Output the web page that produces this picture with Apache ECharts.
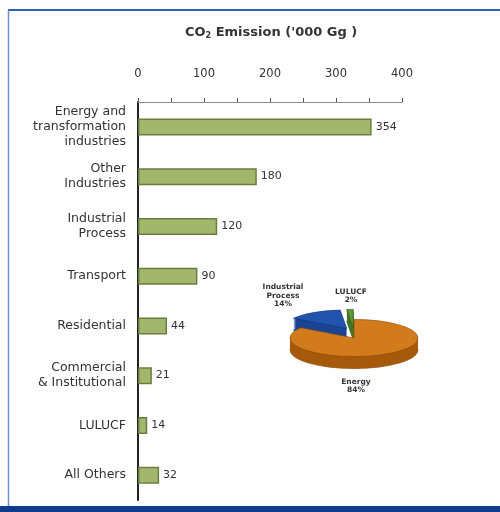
<!DOCTYPE html>
<html>
<head>
<meta charset="utf-8">
<style>
  html, body { margin: 0; padding: 0; background: #ffffff; }
  #chart { width: 500px; height: 512px; }
</style>
<script src="https://cdn.jsdelivr.net/npm/echarts@6/dist/echarts.min.js"></script>
</head>
<body>
<div id="chart"></div>
<script>
// CO2 emissions by sector ('000 Gg)
const categories = [
  'Energy and\ntransformation\nindustries',
  'Other\nIndustries',
  'Industrial\nProcess',
  'Transport',
  'Residential',
  'Commercial\n& Institutional',
  'LULUCF',
  'All Others'
];
const values = [354, 180, 120, 90, 44, 21, 14, 32];

// Value axis range
const xMin = 0;
const xMax = 400;
const xInterval = 100;

// Pie inset: Industrial Process and LULUCF taken from the bars, the rest is energy use
const pieNames = ['Energy', 'Industrial Process', 'LULUCF'];
const total = values.reduce((a, b) => a + b, 0);
const pieValues = [total - values[2] - values[6], values[2], values[6]];

const chart = echarts.init(document.getElementById('chart'));

// pie geometry (flattened 3D look)
const PIE = { cx: 354, cy: 338, r: 64, flat: 0.29, depth: 12, explode: 14, lift: 6 };
const pieColors = {
  'Energy': { top: '#d27b1c', side: '#a65a0c', edge: '#8a4a08' },
  'Industrial Process': { top: '#2254ae', side: '#1a4594', edge: '#12357a' },
  'LULUCF': { top: '#5f9a36', side: '#46782a', edge: '#2f5518' }
};
const pieLabelPos = {
  'Energy': [2, 48],
  'Industrial Process': [-71, -42],
  'LULUCF': [-3, -42]
};
// top faces: back slices first, the front (energy) slice last
const topOrder = { 'Industrial Process': 100, 'LULUCF': 110, 'Energy': 120 };

// angles: slices other than Energy run counter-clockwise from 12 o'clock
const pieSum = pieValues.reduce((a, b) => a + b, 0);
const angles = {};
(function () {
  const top = -Math.PI / 2;
  const aL = pieValues[2] / pieSum * Math.PI * 2;
  const aI = pieValues[1] / pieSum * Math.PI * 2;
  angles['LULUCF'] = [top - aL, top];
  angles['Industrial Process'] = [top - aL - aI, top - aL];
  angles['Energy'] = [top, top + Math.PI * 2 - aL - aI];
})();

function renderPie(params, api) {
  const idx = params.dataIndex;
  const name = pieNames[idx];
  const val = api.value(0);
  const [s, e] = angles[name];
  const c = pieColors[name];
  const mid = (s + e) / 2;
  const isMain = name === 'Energy';
  const ex = isMain ? 0 : PIE.explode;
  const ox = Math.cos(mid) * ex;
  const oy = Math.sin(mid) * ex * PIE.flat - (isMain ? 0 : PIE.lift);
  const children = [];
  for (let d = PIE.depth; d >= 1; d--) {
    children.push({
      type: 'sector',
      x: PIE.cx + ox, y: PIE.cy + oy + d,
      scaleY: PIE.flat,
      shape: { cx: 0, cy: 0, r: PIE.r, r0: 0, startAngle: s, endAngle: e, clockwise: true },
      style: { fill: c.side, stroke: d === PIE.depth ? c.edge : null, lineWidth: 1, strokeNoScale: true },
      z2: 10 + (PIE.depth - d)
    });
  }
  children.push({
    type: 'sector',
    x: PIE.cx + ox, y: PIE.cy + oy,
    scaleY: PIE.flat,
    shape: { cx: 0, cy: 0, r: PIE.r, r0: 0, startAngle: s, endAngle: e, clockwise: true },
    style: { fill: c.top, stroke: c.edge, lineWidth: 1, strokeNoScale: true },
    z2: topOrder[name]
  });
  const pct = Math.round(val / pieSum * 100) + '%';
  const lp = pieLabelPos[name];
  children.push({
    type: 'text',
    x: PIE.cx + lp[0], y: PIE.cy + lp[1],
    style: {
      text: name.replace(' ', '\n') + '\n' + pct,
      align: 'center', verticalAlign: 'middle',
      fontSize: 7.5, lineHeight: 8.5, fontWeight: 'bold',
      fontFamily: 'DejaVu Sans', fill: '#333'
    },
    z2: 500
  });
  return { type: 'group', children: children };
}

const option = {
  backgroundColor: '#ffffff',
  animation: false,
  title: {
    text: '{a|CO}{s|2}{a| Emission (\'000 Gg )}',
    left: 180, top: 20,
    textStyle: {
      rich: {
        a: { fontSize: 13, fontWeight: 'bold', fontFamily: 'DejaVu Sans', color: '#333' },
        s: { fontSize: 8, fontWeight: 'bold', fontFamily: 'DejaVu Sans', color: '#333', verticalAlign: 'bottom', padding: [7, 0, 0, 0] }
      }
    }
  },
  grid: { left: 138, right: 98, top: 102, bottom: 12, containLabel: false },
  xAxis: {
    type: 'value',
    position: 'top',
    min: xMin, max: xMax, interval: xInterval,
    axisLine: { show: true, lineStyle: { color: '#8a8a8a', width: 1 } },
    axisTick: { show: true, length: 4, lineStyle: { color: '#555' } },
    minorTick: { show: true, splitNumber: 2, length: 4, lineStyle: { color: '#555' } },
    splitLine: { show: false },
    axisLabel: { margin: 22, fontSize: 11.5, fontFamily: 'DejaVu Sans', color: '#333' }
  },
  yAxis: {
    type: 'category',
    inverse: true,
    data: categories,
    axisLine: { show: true, lineStyle: { color: '#222', width: 2 } },
    axisTick: { show: false },
    axisLabel: { margin: 12, fontSize: 12.5, lineHeight: 15, fontFamily: 'DejaVu Sans', color: '#333', align: 'right' }
  },
  series: [
    {
      type: 'bar',
      data: values,
      barWidth: 17,
      itemStyle: { color: '#a3b76c', borderColor: '#6c7c40', borderWidth: 1.5 },
      label: { show: true, position: 'right', distance: 4, fontSize: 11, fontFamily: 'DejaVu Sans', color: '#333' }
    },
    {
      type: 'custom',
      coordinateSystem: 'none',
      data: pieValues,
      renderItem: renderPie,
      silent: true
    }
  ],
  graphic: [
    { type: 'line', shape: { x1: 8, y1: 10, x2: 500, y2: 10 }, style: { stroke: '#2d5fb4', lineWidth: 2 }, z: 10 },
    { type: 'line', shape: { x1: 8.5, y1: 10, x2: 8.5, y2: 506 }, style: { stroke: '#6f8fcc', lineWidth: 1.5 }, z: 10 },
    { type: 'rect', shape: { x: 0, y: 506, width: 500, height: 6 }, style: { fill: '#0e3d8e' }, z: 10 }
  ]
};

chart.setOption(option);
</script>
</body>
</html>
